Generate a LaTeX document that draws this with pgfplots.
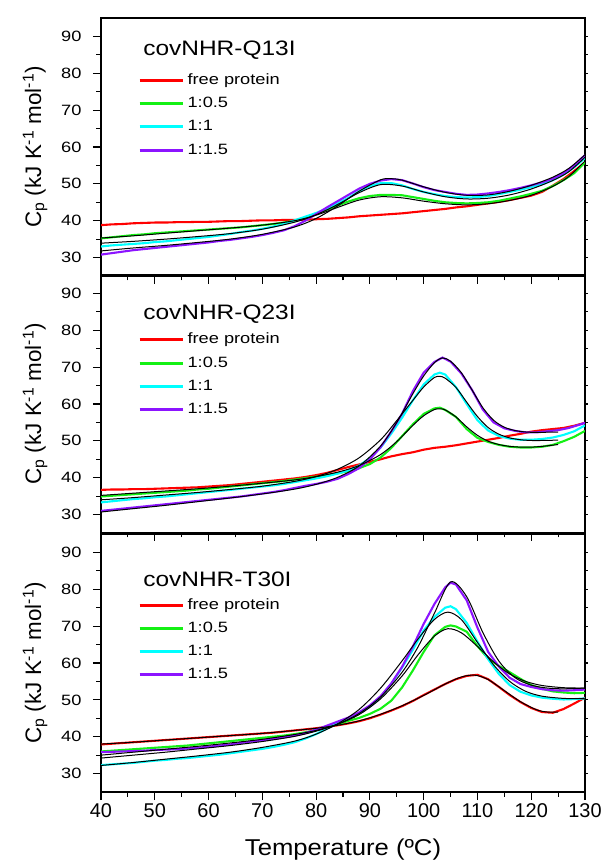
\documentclass[border=0pt]{standalone}
\usepackage{fontspec}
\setmainfont{Liberation Sans}
\newfontfamily\wideA{Liberation Sans}[FakeStretch=1.22]
\newfontfamily\wideB{Liberation Sans}[FakeStretch=1.17]
\newfontfamily\wideC{Liberation Sans}[FakeStretch=1.12]
\usepackage{pgfplots}
\pgfplotsset{compat=1.18}
\definecolor{cR}{RGB}{255,0,0}
\definecolor{cG}{RGB}{20,240,20}
\definecolor{cC}{RGB}{0,255,255}
\definecolor{cP}{RGB}{140,20,255}
\tikzset{ptitle/.style={anchor=west, inner sep=0pt, font=\wideB\fontsize{21}{25}\selectfont}}
\pgfplotsset{
  panel/.style={
    scale only axis, width=484bp, height=258bp,
    xmin=40, xmax=130, ymin=25, ymax=95,
    xtick={40,50,...,130}, minor x tick num=1,
    ytick={30,40,...,90}, minor y tick num=1,
    tick align=outside, tick pos=left,
    major tick length=8bp, minor tick length=4.5bp,
    axis line style={line width=1.3bp},
    every tick/.style={black, line width=1.1bp},
    /pgf/number format/assume math mode=true,
    yticklabel style={font=\wideA\fontsize{15}{18}\selectfont, xshift=-8bp},
    xticklabel style={font=\fontsize{20}{24}\selectfont},
    ylabel={C\textsubscript{p} (kJ K\textsuperscript{-1} mol\textsuperscript{-1})},
    ylabel style={font=\fontsize{22.5}{26}\selectfont, at={(axis description cs:-0.136,0.5)}, anchor=center},
    legend cell align=left,
    legend image code/.code={\draw[##1, line width=3bp] (0bp,0bp) -- (43bp,0bp);},
    legend style={draw=none, fill=none, font=\wideA\fontsize{15}{18}\selectfont, anchor=north west,
      nodes={text height=11bp, text depth=3bp, inner sep=1.5bp}, row sep=6.3bp,
      /tikz/every odd column/.append style={column sep=2bp}},
    after end axis/.code={
      \foreach \yy in {30,35,...,90} {\draw[line width=1.1bp] (axis cs:130,\yy) -- ++(3bp,0bp);}
    },
  },
  dat/.style={line width=2.1bp},
  fit/.style={black, line width=1.0bp, forget plot},
}
\begin{document}
\begin{tikzpicture}
% ---------------- Panel 1 ----------------
\begin{axis}[panel, at={(101bp,591bp)}, anchor=south west, xticklabels={},
  legend style={at={(axis description cs:0.07,0.800)}}]
\addplot[dat, cR] coordinates {(40,38.8)(42,39.0)(44,39.1)(46,39.3)(48,39.4)(50,39.5)(52,39.5)(54,39.6)(56,39.6)(58,39.7)(60,39.7)(62,39.8)(64,39.9)(66,39.9)(68,40.0)(70,40.1)(72,40.1)(74,40.2)(76,40.2)(78,40.3)(80,40.4)(82,40.5)(84,40.7)(86,40.9)(88,41.2)(90,41.4)(92,41.6)(94,41.8)(96,42.0)(98,42.3)(100,42.6)(102,42.9)(104,43.2)(106,43.6)(108,43.9)(110,44.3)(112,44.7)(114,45.1)(116,45.6)(118,46.2)(120,46.8)(122,47.8)(124,49.5)(126,51.3)(128,53.5)(130,55.8)};
\addlegendentry{free protein}
\addplot[dat, cG] coordinates {(40,35.2)(42,35.5)(44,35.8)(46,36.1)(48,36.3)(50,36.6)(52,36.8)(54,37.0)(56,37.2)(58,37.4)(60,37.6)(62,37.8)(64,38.0)(66,38.2)(68,38.5)(70,38.8)(72,39.1)(74,39.5)(76,40.0)(78,40.9)(80,41.9)(82,43.0)(84,44.1)(86,45.2)(88,46.1)(90,46.7)(92,47.0)(94,47.0)(96,46.9)(98,46.4)(100,45.9)(102,45.4)(104,45.0)(106,44.8)(108,44.7)(110,44.8)(112,45.0)(114,45.4)(116,46.0)(118,46.6)(120,47.3)(122,48.1)(124,49.4)(126,51.0)(128,52.9)(130,55.8)};
\addlegendentry{1:0.5}
\addplot[dat, cC] coordinates {(40,33.0)(42,33.3)(44,33.5)(46,33.7)(48,33.9)(50,34.2)(52,34.4)(54,34.7)(56,35.0)(58,35.3)(60,35.6)(62,36.0)(64,36.4)(66,36.9)(68,37.3)(70,37.8)(72,38.4)(74,39.1)(76,40.1)(78,41.1)(80,42.1)(82,43.3)(84,44.7)(86,46.2)(88,48.0)(90,49.4)(92,50.2)(94,50.2)(96,49.6)(98,48.6)(100,47.8)(102,47.2)(104,46.7)(106,46.4)(108,46.3)(110,46.4)(112,46.7)(114,47.2)(116,47.8)(118,48.4)(120,49.1)(122,49.9)(124,51.0)(126,52.5)(128,54.5)(130,57.0)};
\addlegendentry{1:1}
\addplot[dat, cP] coordinates {(40,30.8)(42,31.2)(44,31.6)(46,32.0)(48,32.3)(50,32.6)(52,32.9)(54,33.2)(56,33.5)(58,33.8)(60,34.1)(62,34.5)(64,34.8)(66,35.2)(68,35.6)(70,36.1)(72,36.7)(74,37.4)(76,38.5)(78,40.0)(80,41.8)(82,43.6)(84,45.3)(86,47.0)(88,48.7)(90,50.0)(92,50.9)(94,51.3)(96,51.0)(98,50.1)(100,49.1)(102,48.3)(104,47.8)(106,47.3)(108,47.0)(110,47.1)(112,47.4)(114,47.8)(116,48.3)(118,48.9)(120,49.6)(122,50.4)(124,51.4)(126,52.9)(128,55.0)(130,57.8)};
\addlegendentry{1:1.5}
\addplot[fit, smooth] coordinates {(40,35.3)(46,35.9)(52,36.6)(58,37.3)(64,38.0)(70,38.8)(76,40.0)(80,41.5)(84,43.6)(88,45.6)(92,46.5)(96,46.2)(100,45.3)(104,44.6)(108,44.3)(112,44.6)(116,45.5)(120,46.9)(124,49.3)(127,52.0)(130,56.2)};
\addplot[fit, smooth] coordinates {(40,33.9)(46,34.4)(52,35.0)(58,35.7)(64,36.5)(70,37.7)(76,39.6)(80,41.6)(84,44.4)(88,47.6)(92,49.8)(96,49.4)(100,47.8)(104,46.5)(108,45.9)(112,46.1)(116,47.0)(120,48.6)(124,50.9)(127,53.3)(130,57.2)};
\addplot[fit, smooth] coordinates {(40,31.8)(46,32.6)(52,33.3)(58,34.1)(64,35.0)(70,36.3)(76,38.3)(80,40.6)(84,44.0)(88,48.0)(92,51.1)(94,51.4)(96,51.0)(100,49.2)(104,47.7)(108,46.9)(112,47.0)(116,48.0)(120,49.6)(124,51.8)(127,54.2)(130,57.9)};
\node[ptitle] at (axis description cs:0.087,0.874) {covNHR-Q13I};
\end{axis}
% ---------------- Panel 2 ----------------
\begin{axis}[panel, at={(101bp,334bp)}, anchor=south west, xticklabels={},
  legend style={at={(axis description cs:0.07,0.790)}}]
\addplot[dat, cR] coordinates {(40,36.7)(42,36.8)(44,36.8)(46,36.9)(48,36.9)(50,37.0)(52,37.1)(54,37.2)(56,37.3)(58,37.4)(60,37.6)(62,37.8)(64,38.0)(66,38.3)(68,38.6)(70,38.9)(72,39.2)(74,39.5)(76,39.8)(78,40.2)(80,40.7)(82,41.3)(84,42.1)(86,42.9)(88,43.6)(90,44.3)(92,45.0)(94,45.8)(96,46.4)(98,46.9)(100,47.6)(102,48.1)(104,48.4)(106,48.8)(108,49.3)(110,49.8)(112,50.3)(114,50.8)(116,51.4)(118,51.9)(120,52.5)(122,52.9)(124,53.2)(126,53.5)(128,54.1)(130,54.9)};
\addlegendentry{free protein}
\addplot[dat, cG] coordinates {(40,34.9)(42,35.1)(44,35.3)(46,35.5)(48,35.7)(50,35.9)(52,36.1)(54,36.3)(56,36.5)(58,36.8)(60,37.0)(62,37.3)(64,37.6)(66,37.9)(68,38.2)(70,38.5)(72,38.8)(74,39.1)(76,39.5)(78,39.9)(80,40.3)(82,40.7)(84,41.2)(86,41.8)(88,42.6)(90,43.7)(92,45.5)(94,48.1)(96,51.3)(98,54.5)(100,57.3)(102,58.8)(103,59.0)(104,58.4)(106,56.5)(108,53.2)(110,50.8)(112,49.7)(114,48.9)(116,48.4)(118,48.2)(120,48.2)(122,48.4)(124,48.9)(126,49.9)(128,51.1)(130,52.7)};
\addlegendentry{1:0.5}
\addplot[dat, cC] coordinates {(40,33.3)(42,33.6)(44,33.9)(46,34.2)(48,34.4)(50,34.7)(52,34.9)(54,35.2)(56,35.5)(58,35.8)(60,36.1)(62,36.4)(64,36.7)(66,37.0)(68,37.3)(70,37.6)(72,37.9)(74,38.3)(76,38.8)(78,39.3)(80,39.8)(82,40.4)(84,41.1)(86,42.0)(88,43.3)(90,45.3)(92,48.2)(94,52.0)(96,56.3)(98,61.0)(100,65.3)(102,68.0)(103,68.5)(104,68.0)(106,64.6)(108,60.0)(110,55.6)(112,52.8)(114,51.3)(116,50.6)(118,50.3)(120,50.3)(122,50.5)(124,50.9)(126,51.6)(128,52.6)(130,54.2)};
\addlegendentry{1:1}
\addplot[dat, cP] coordinates {(40,31.0)(42,31.3)(44,31.6)(46,31.9)(48,32.2)(50,32.5)(52,32.8)(54,33.1)(56,33.4)(58,33.7)(60,34.0)(62,34.3)(64,34.6)(66,34.9)(68,35.3)(70,35.7)(72,36.1)(74,36.6)(76,37.2)(78,37.8)(80,38.3)(82,38.9)(84,39.7)(86,41.0)(88,42.6)(90,45.0)(92,48.3)(94,52.6)(96,57.4)(98,63.5)(100,68.5)(102,71.4)(103.5,72.6)(105,71.5)(107,68.3)(109,63.8)(111,58.5)(113,55.0)(115,53.4)(117,52.7)(119,52.3)(121,52.3)(123,52.6)(125,52.9)(127,53.5)(129,54.4)(130,54.9)};
\addlegendentry{1:1.5}
\addplot[fit, smooth] coordinates {(40,35.2)(46,35.8)(52,36.4)(58,37.0)(64,37.7)(70,38.5)(76,39.4)(80,40.3)(84,41.5)(88,43.3)(92,46.3)(95,49.8)(98,54.2)(100,56.8)(102,58.5)(103,58.7)(104,58.4)(106,56.5)(108,53.8)(110,51.5)(112,49.9)(114,49.0)(116,48.5)(118,48.3)(120,48.3)(122,48.5)(125,49.0)};
\addplot[fit, smooth] coordinates {(40,34.0)(46,34.6)(52,35.3)(58,36.0)(64,36.8)(70,37.7)(76,39.0)(80,40.3)(84,42.3)(88,45.4)(92,50.3)(95,55.5)(98,61.0)(100,64.6)(102,67.2)(103,67.5)(104,67.0)(106,64.5)(108,60.5)(110,56.6)(112,53.6)(114,51.8)(116,50.8)(118,50.3)(120,50.1)(122,50.1)(125,50.2)};
\addplot[fit, smooth] coordinates {(40,30.7)(46,31.6)(52,32.5)(58,33.5)(64,34.5)(70,35.6)(76,36.9)(80,38.2)(84,40.1)(88,43.2)(92,48.6)(95,55.0)(98,62.8)(100,67.6)(102,71.2)(103.5,72.5)(105,71.6)(107,68.5)(109,63.8)(111,59.0)(113,55.6)(115,53.7)(117,52.8)(119,52.4)(121,52.3)(125,52.4)};
\node[ptitle] at (axis description cs:0.087,0.847) {covNHR-Q23I};
\end{axis}
% ---------------- Panel 3 ----------------
\begin{axis}[panel, at={(101bp,75bp)}, anchor=south west,
  xlabel={Temperature (ºC)},
  xlabel style={font=\wideC\fontsize{23}{27}\selectfont, at={(axis description cs:0.5,-0.225)}, anchor=center},
  legend style={at={(axis description cs:0.07,0.766)}}]
\addplot[dat, cR] coordinates {(40,37.9)(42,38.1)(44,38.3)(46,38.5)(48,38.7)(50,38.9)(52,39.1)(54,39.3)(56,39.5)(58,39.7)(60,39.9)(62,40.1)(64,40.3)(66,40.5)(68,40.7)(70,40.9)(72,41.1)(74,41.4)(76,41.7)(78,42.0)(80,42.3)(82,42.7)(84,43.1)(86,43.6)(88,44.2)(90,45.0)(92,46.0)(94,47.1)(96,48.3)(98,49.7)(100,51.3)(102,52.8)(104,54.3)(106,55.6)(108,56.5)(110,56.8)(112,55.6)(114,53.5)(116,51.3)(118,49.4)(120,47.8)(122,46.7)(124,46.5)(126,47.5)(128,49.0)(130,50.6)};
\addlegendentry{free protein}
\addplot[dat, cG] coordinates {(40,36.0)(42,36.2)(44,36.4)(46,36.6)(48,36.8)(50,37.0)(52,37.2)(54,37.4)(56,37.6)(58,37.9)(60,38.2)(62,38.5)(64,38.8)(66,39.1)(68,39.4)(70,39.7)(72,40.0)(74,40.3)(76,40.7)(78,41.2)(80,41.8)(82,42.6)(84,43.4)(86,44.3)(88,45.1)(90,46.2)(92,47.6)(94,49.8)(96,53.4)(98,58.0)(100,63.0)(102,67.5)(104,69.8)(105,70.2)(106,69.9)(108,68.5)(110,64.6)(112,61.2)(114,59.2)(116,57.5)(118,55.7)(120,54.0)(122,53.0)(124,52.3)(126,52.0)(128,51.8)(130,51.9)};
\addlegendentry{1:0.5}
\addplot[dat, cC] coordinates {(40,32.3)(42,32.5)(44,32.7)(46,32.9)(48,33.2)(50,33.5)(52,33.7)(54,34.0)(56,34.2)(58,34.5)(60,34.8)(62,35.1)(64,35.5)(66,35.9)(68,36.3)(70,36.7)(72,37.2)(74,37.8)(76,38.5)(78,39.5)(80,40.7)(82,42.2)(84,43.7)(86,45.0)(88,46.4)(90,48.2)(92,50.8)(94,54.4)(96,58.8)(98,63.6)(100,68.8)(102,72.5)(104,75.0)(105,75.4)(106,74.6)(108,70.9)(110,65.8)(112,61.0)(114,57.0)(116,54.0)(118,52.2)(120,51.2)(122,50.6)(124,50.3)(126,50.1)(128,50.2)(130,50.4)};
\addlegendentry{1:1}
\addplot[dat, cP] coordinates {(40,35.8)(42,35.9)(44,36.0)(46,36.1)(48,36.2)(50,36.4)(52,36.5)(54,36.6)(56,36.8)(58,37.0)(60,37.3)(62,37.6)(64,37.9)(66,38.3)(68,38.7)(70,39.0)(72,39.4)(74,39.8)(76,40.3)(78,41.0)(80,41.9)(82,43.0)(84,44.1)(86,45.2)(88,46.6)(90,48.5)(92,51.0)(94,54.5)(96,59.0)(98,64.5)(100,70.6)(102,76.0)(104,80.5)(105,81.8)(106,81.3)(108,77.0)(110,69.6)(112,63.0)(114,59.0)(116,56.0)(118,54.3)(120,53.5)(122,52.9)(124,52.6)(126,52.5)(128,52.6)(130,52.8)};
\addlegendentry{1:1.5}
\addplot[fit, smooth] coordinates {(40,38.0)(46,38.5)(52,39.1)(58,39.7)(64,40.3)(70,40.9)(76,41.7)(80,42.3)(84,43.1)(88,44.3)(92,46.1)(96,48.4)(100,51.2)(104,54.3)(107,56.2)(109.5,56.7)(112,55.5)(115,52.5)(118,49.5)(121,47.3)(123,46.7)(125,46.7)};
\addplot[fit, smooth] coordinates {(40,35.0)(46,35.8)(52,36.6)(58,37.4)(64,38.3)(70,39.3)(76,40.6)(80,41.7)(84,43.4)(88,46.0)(92,50.3)(96,56.5)(99,62.3)(102,67.3)(104.5,69.3)(107,68.2)(110,64.5)(113,60.3)(116,57.0)(119,55.0)(122,53.9)(126,53.3)(130,53.2)};
\addplot[fit, smooth] coordinates {(40,32.2)(46,33.0)(52,33.9)(58,34.8)(64,35.8)(70,37.1)(76,38.8)(80,40.7)(84,43.5)(88,47.4)(92,53.2)(96,60.6)(99,66.6)(102,71.8)(104.5,73.8)(107,71.8)(110,65.6)(113,59.5)(116,55.0)(119,52.3)(122,51.0)(126,50.4)(130,50.3)};
\addplot[fit, smooth] coordinates {(40,34.2)(46,35.0)(52,35.8)(58,36.7)(64,37.6)(70,38.7)(76,40.1)(80,41.5)(84,43.4)(88,46.3)(92,50.8)(96,57.5)(99,64.5)(102,73.5)(105,82.0)(108,78.0)(111,68.3)(114,60.5)(117,56.0)(120,54.0)(123,53.2)(126,53.0)(130,53.2)};
\node[ptitle] at (axis description cs:0.087,0.824) {covNHR-T30I};
\end{axis}
\pgfresetboundingbox
\path[use as bounding box] (0bp,0bp) rectangle (601bp,867bp);
\end{tikzpicture}
\end{document}
